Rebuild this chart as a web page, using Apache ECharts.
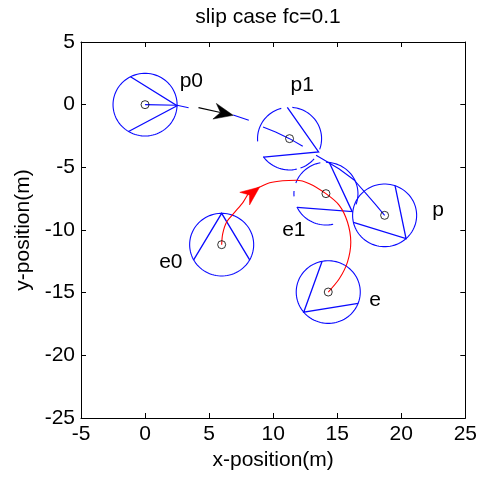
<!DOCTYPE html>
<html><head><meta charset="utf-8">
<script src="https://cdn.jsdelivr.net/npm/echarts@6/dist/echarts.min.js"></script>
<style>html,body{margin:0;padding:0;background:#fff}#c{width:480px;height:477px}</style>
</head><body><div id="c"></div>
<script>
// ---- text ----
const titleText = 'slip case fc=0.1';
const xName = 'x-position(m)';
const yName = 'y-position(m)';
// ---- axes ----
const xMin = -5, xMax = 25, yMin = -25, yMax = 5, tickStep = 5;

// ---- robots (circle bodies) ----
const robotNames   = ['p0', 'p1', 'p', 'e0', 'e1', 'e'];
const robotX       = [0, 11.28, 18.7, 5.98, 14.12, 14.3];
const robotY       = [0, -2.71, -8.83, -11.17, -7.10, -14.95];
const robotHeading = [-2, -25, -48, 90, -35, 220];   // degrees
const robotRadius  = 2.5;
const wedgeBackAngle = 119;                          // degrees from heading
// visible arcs of each circle (degrees)
const robotArcs = [
  [[0, 360]],
  [[105, 185], [215, 283], [290, 320], [340, 445]],
  [[0, 360]],
  [[0, 360]],
  [[-20, 90], [100, 160], [175, 185], [205, 283]],
  [[0, 360]]
];
// label anchor points (left / middle)
const labelX = [2.7, 11.36, 22.42, 1.1, 10.7, 17.5];
const labelY = [1.89, 1.55, -8.40, -12.53, -10.0, -15.59];

// ---- pursuer path (blue, broken) ----
const pursuerX = [0, 2.5, 3.4, null, 6.88, 8.1, null, 9.21, 10.19, 11.28, 12.31, null, 13.35, 14.25, 15.16, 16.32, 17.22, 17.95, 18.7];
const pursuerY = [0, -0.05, -0.24, null, -0.82, -1.25, null, -1.78, -2.18, -2.71, -3.32, null, -4.04, -4.57, -5.13, -6.01, -7.05, -7.92, -8.83];
// ---- evader path (red) ----
const evaderX = [5.98, 6.06, 6.37, 7.02, 7.66, 8.18, 8.95, 9.73, 10.74, 11.8, 12.83, 14.12, 15.16, 15.8, 16.06, 15.8, 15.16, 14.3];
const evaderY = [-11.17, -10.3, -9.36, -8.56, -7.77, -6.97, -6.57, -6.23, -6.07, -6.03, -6.3, -7.10, -8.03, -9.36, -10.96, -12.56, -13.89, -14.95];
// ---- arrows ----
const arrowFromX = [4.17, 7.9];
const arrowFromY = [-0.24, -7.4];
const arrowToX   = [6.88, 8.95];
const arrowToY   = [-0.85, -6.57];
const arrowColor = ['#000000', '#ff0000'];
const arrowShaft = [true, false];

const FONT = 'Liberation Sans, Arial, Helvetica, sans-serif';
const FS = 21;
const BLUE = '#0a0aff', RED = '#ff0000';

function pairs(xs, ys) {
  return xs.map((x, i) => (x === null ? ['-', '-'] : [x, ys[i]]));
}

const robotData = robotX.map((x, i) => [x, robotY[i], robotHeading[i]]);
const markerData = robotX.map((x, i) => [x, robotY[i]]);
const labelData = labelX.map((x, i) => [x, labelY[i]]);
const arrowData = arrowFromX.map((x, i) => [x, arrowFromY[i], arrowToX[i], arrowToY[i]]);

function renderRobot(params, api) {
  const i = params.dataIndex;
  const cx = api.value(0), cy = api.value(1), h = api.value(2);
  const pt = (deg) => {
    const a = deg * Math.PI / 180;
    return api.coord([cx + robotRadius * Math.cos(a), cy + robotRadius * Math.sin(a)]);
  };
  const children = [];
  robotArcs[i].forEach(([a0, a1]) => {
    const n = Math.max(2, Math.ceil((a1 - a0) / 4));
    const pts = [];
    for (let k = 0; k <= n; k++) pts.push(pt(a0 + (a1 - a0) * k / n));
    children.push({ type: 'polyline', shape: { points: pts },
      style: { stroke: BLUE, lineWidth: 1.1, fill: null } });
  });
  children.push({ type: 'polyline',
    shape: { points: [pt(h + wedgeBackAngle), pt(h), pt(h - wedgeBackAngle)] },
    style: { stroke: BLUE, lineWidth: 1.3, fill: null } });
  return { type: 'group', children };
}

function renderArrow(params, api) {
  const i = params.dataIndex;
  const a = api.coord([api.value(0), api.value(1)]);
  const b = api.coord([api.value(2), api.value(3)]);
  const dx = b[0] - a[0], dy = b[1] - a[1];
  const len = Math.hypot(dx, dy) || 1;
  const ux = dx / len, uy = dy / len, nx = -uy, ny = ux;
  const L = 19, W = 8, notch = 6;
  const base = [b[0] - L * ux, b[1] - L * uy];
  const inner = [b[0] - (L - notch) * ux, b[1] - (L - notch) * uy];
  const children = [{ type: 'polygon',
    shape: { points: [b, [base[0] + W * nx, base[1] + W * ny], inner, [base[0] - W * nx, base[1] - W * ny]] },
    style: { fill: arrowColor[i], stroke: arrowColor[i], lineWidth: 0.5 } }];
  if (arrowShaft[i]) {
    children.unshift({ type: 'line', shape: { x1: a[0], y1: a[1], x2: inner[0], y2: inner[1] },
      style: { stroke: arrowColor[i], lineWidth: 1.2 } });
  }
  return { type: 'group', children };
}

function renderLabel(params, api) {
  const i = params.dataIndex;
  const p = api.coord([api.value(0), api.value(1)]);
  return { type: 'text', x: p[0], y: p[1],
    style: { text: robotNames[i], fill: '#000', fontSize: FS, fontFamily: FONT,
      align: 'left', verticalAlign: 'middle' } };
}

const axisCommon = {
  type: 'value', interval: tickStep,
  axisLine: { onZero: false, lineStyle: { color: '#000', width: 1 } },
  axisTick: { inside: true, length: 5, lineStyle: { color: '#000', width: 1 } },
  splitLine: { show: false }
};

const chart = echarts.init(document.getElementById('c'), null, { renderer: 'canvas' });
chart.setOption({
  animation: false,
  backgroundColor: '#fff',
  title: { text: titleText, left: 268, top: 7, textAlign: 'center', padding: 0,
    textStyle: { fontSize: FS, fontWeight: 'normal', color: '#000', fontFamily: FONT } },
  grid: { left: 81, right: 12, top: 42, bottom: 59, containLabel: false },
  xAxis: [
    Object.assign({}, axisCommon, { min: xMin, max: xMax, position: 'bottom',
      axisLabel: { color: '#000', fontSize: FS, fontFamily: FONT, margin: 6 },
      name: xName, nameLocation: 'middle', nameGap: 32,
      nameTextStyle: { color: '#000', fontSize: FS, fontFamily: FONT } }),
    Object.assign({}, axisCommon, { min: xMin, max: xMax, position: 'top', axisLabel: { show: false } })
  ],
  yAxis: [
    Object.assign({}, axisCommon, { min: yMin, max: yMax, position: 'left',
      axisLabel: { color: '#000', fontSize: FS, fontFamily: FONT, margin: 6 },
      name: yName, nameLocation: 'middle', nameGap: 46,
      nameTextStyle: { color: '#000', fontSize: FS, fontFamily: FONT } }),
    Object.assign({}, axisCommon, { min: yMin, max: yMax, position: 'right', axisLabel: { show: false } })
  ],
  series: [
    { type: 'custom', renderItem: renderRobot, data: robotData, encode: { x: 0, y: 1 }, z: 2 },
    { type: 'line', data: pairs(pursuerX, pursuerY), symbol: 'none', connectNulls: false,
      lineStyle: { color: BLUE, width: 1.1 }, z: 3 },
    { type: 'line', data: pairs(evaderX, evaderY), symbol: 'none', smooth: 0.3,
      lineStyle: { color: RED, width: 1.1 }, z: 4 },
    { type: 'custom', renderItem: renderArrow, data: arrowData, encode: { x: [0, 2], y: [1, 3] }, z: 5 },
    { type: 'scatter', data: markerData, symbol: 'circle', symbolSize: 8,
      itemStyle: { color: 'rgba(0,0,0,0)', borderColor: '#000', borderWidth: 1 }, z: 6 },
    { type: 'custom', renderItem: renderLabel, data: labelData, encode: { x: 0, y: 1 }, z: 7 }
  ]
});
</script>
</body></html>
